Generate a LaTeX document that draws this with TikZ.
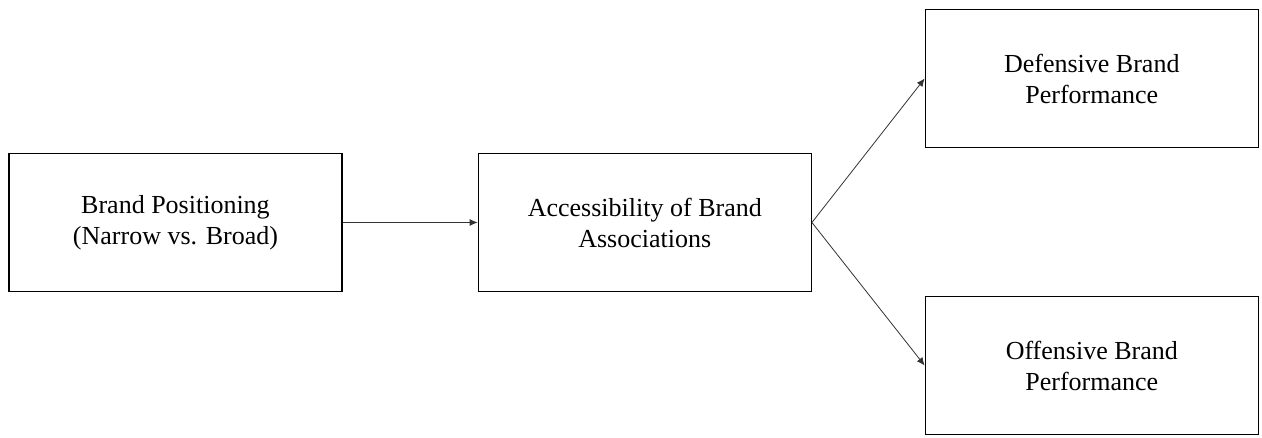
\documentclass[tikz,border=0pt]{standalone}
\usepackage{fontspec}
\setmainfont{Liberation Serif}
\usetikzlibrary{arrows.meta,positioning}

\begin{document}
\begin{tikzpicture}[x=1pt,y=1pt,
    block/.style={rectangle, draw, line width=1.3pt, minimum width=333pt, minimum height=138pt, align=center, font=\fontsize{26}{31}\selectfont},
    link/.style={-{Latex[length=8pt,width=7pt]}, line width=0.8pt, draw=black!80}]
        \useasboundingbox (0,0) rectangle (1262,437);
        \node[block] (positioning) at (175.5,214.5) {Brand Positioning\\(Narrow vs. Broad)};
        \node[block, right = 135pt of positioning] (access) {Accessibility of Brand\\Associations};
        \node[block, right = 112.7pt of access, yshift=144pt] (defensive) {Defensive Brand\\Performance};
        \node[block, right = 112.7pt of access, yshift=-143pt] (offensive) {Offensive Brand\\Performance};
        \draw[link] (positioning) -- (access);
        \draw[link] (access.east) -- (defensive.west);
        \draw[link] (access.east) -- (offensive.west);
      \end{tikzpicture}
\end{document}
